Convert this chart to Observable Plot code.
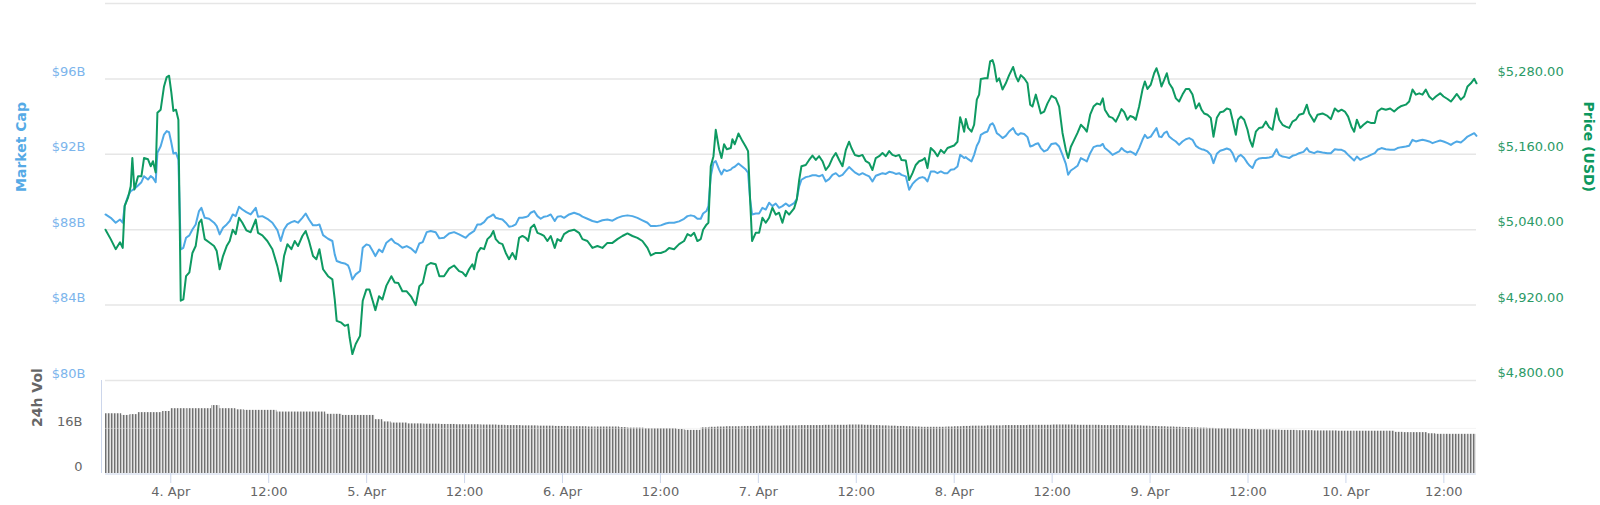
<!DOCTYPE html>
<html>
<head>
<meta charset="utf-8">
<script src="https://cdn.jsdelivr.net/npm/d3@7"></script>
<script src="https://cdn.jsdelivr.net/npm/@observablehq/plot@0.6"></script>
<style>
  body { margin: 0; background: #fff; }
  #chart { position: relative; width: 1600px; height: 505px; }
  #chart svg { position: absolute; left: 0; top: 0; }
</style>
</head>
<body>
<div id="chart"></div>
<script>
// ---- time: hours since 3 Apr 16:00 (UTC) ----
const startUTC = Date.UTC(2018, 3, 3, 16);
const spanHours = 168;

// ---- sample times (hours) for price & market cap ----
const hours = [
  0,0.64,1.25,1.78,2.11,2.35,2.76,3.09,3.29,3.54,3.99,4.40,4.72,5.21,5.54,5.82,6.15,6.36,6.76,7.17,
  7.50,7.79,8.07,8.32,8.64,8.93,9.22,9.54,9.87,10.28,10.65,11.05,11.46,11.75,12.16,12.69,13.30,13.63,13.99,14.40,
  14.85,15.22,15.59,15.96,16.36,16.77,17.26,17.79,18.41,18.69,19.22,19.83,20.45,21.06,21.47,21.88,22.29,22.78,23.19,23.59,
  24.12,24.53,24.94,25.43,25.84,26.21,26.66,27.27,27.80,28.09,28.33,28.90,29.31,29.72,29.92,30.25,30.66,31.19,31.52,31.97,
  32.33,32.74,33.07,33.52,33.93,34.42,35.03,35.44,35.89,36.38,36.91,37.48,38.01,38.46,38.87,39.36,39.85,40.46,40.91,41.48,42.10,
  42.71,43.33,43.74,44.14,44.55,44.96,45.17,45.57,45.98,46.39,
  46.80,47.21,47.53,47.82,48.23,48.64,49.05,49.45,49.86,50.27,
  50.68,51.09,51.50,51.78,52.11,52.52,52.93,53.33,53.74,54.15,
  54.56,55.05,55.38,55.79,56.19,56.81,57.42,58.03,58.44,59.05,
  59.67,60.28,60.89,61.50,62.12,62.73,63.34,63.96,64.57,65.18,
  65.79,66.41,66.82,67.43,68.04,68.65,69.06,69.67,70.29,70.90,
  71.31,71.72,72.13,72.53,72.94,73.23,73.64,73.88,74.17,74.50,
  74.78,75.19,75.48,75.80,76.13,76.62,76.82,77.11,77.56,78.05,
  78.46,78.74,78.99,79.23,79.68,80.09,80.50,80.91,81.32,81.72,
  82.13,82.54,82.95,83.36,83.77,
  84.38,84.71,85.00,85.28,85.81,86.22,86.63,87.04,87.45,87.86,
  88.26,88.67,89.08,89.49,89.90,90.31,90.72,91.12,91.41,91.82,
  92.35,92.76,93.17,93.58,93.98,94.39,94.80,95.21,95.62,96.03,
  96.43,96.84,97.25,97.54,98.07,98.48,98.89,99.29,99.70,100.11,
  100.40,100.72,101.13,101.54,101.95,102.36,102.77,103.18,103.58,103.99,
  104.40,104.73,105.01,105.22,105.42,105.71,106.12,106.44,106.77,107.05,
  107.26,107.75,108.08,108.40,108.69,108.89,109.22,109.51,109.92,110.32,
  110.73,111.22,111.55,111.84,112.16,112.57,112.98,113.31,113.59,114.00,
  114.29,114.61,115.02,115.43,115.92,116.45,116.86,117.27,117.68,117.96,
  118.29,118.70,119.11,119.52,119.92,120.25,120.66,121.07,121.48,121.89,
  122.21,122.46,122.99,123.40,123.80,124.21,124.50,124.83,125.23,125.56,
  125.97,126.25,126.66,127.07,127.36,127.68,128.09,128.50,128.79,129.11,
  129.40,129.72,130.05,130.34,130.75,131.16,131.56,131.97,132.38,132.79,
  133.20,133.61,134.01,134.30,134.63,135.04,135.44,135.77,136.18,136.59,
  136.99,137.40,137.81,138.10,138.51,138.79,139.12,139.53,139.94,140.22,
  140.55,140.96,141.37,141.78,142.18,142.59,143.00,143.49,143.82,144.23,
  144.64,145.04,145.45,145.86,146.27,146.80,147.21,147.50,148.11,148.52,
  149.13,149.74,150.15,150.64,151.05,151.46,151.87,152.27,152.68,153.01,
  153.34,153.75,154.15,154.64,155.05,155.54,155.87,156.36,156.89,157.42,
  157.91,158.32,158.81,159.34,159.75,160.16,160.57,160.98,161.38,161.79,
  162.20,162.61,163.02,163.55,163.96,164.45,164.86,165.18,165.59,166.08,
  166.49,166.90,167.31,167.72,168.00
];

// ---- price (USD) ----
const price = [
  5040,5025,5009,5020,5011,5078,5091,5109,5154,5104,5125,5125,5154,5152,5141,5149,5131,5226,5231,5268,
  5283,5285,5258,5229,5231,5215,4927,4929,4966,4972,5003,5014,5051,5056,5025,5020,5014,5006,4977,4998,
  5014,5022,5040,5033,5059,5051,5039,5036,5056,5035,5031,5022,5009,4982,4958,4998,5017,5009,5022,5014,
  5030,5038,5022,4998,4993,5009,4977,4966,4961,4929,4895,4892,4887,4889,4868,4842,4858,4871,4927,4945,
  4945,4927,4912,4934,4929,4951,4966,4956,4955,4942,4942,4933,4920,4950,4955,4983,4987,4985,4966,4966,4978,
  4983,4974,4972,4966,4977,4985,4977,5003,5011,5009,
  5025,5030,5038,5025,5019,5017,5003,4993,5003,4993,
  5027,5030,5027,5022,5043,5048,5035,5033,5030,5022,
  5030,5011,5025,5022,5033,5038,5040,5035,5025,5022,
  5011,5014,5011,5019,5019,5025,5030,5034,5030,5027,
  5022,5011,4999,5003,5003,5006,5011,5009,5017,5022,
  5033,5030,5035,5022,5025,5040,5048,5051,5141,5157,
  5199,5168,5154,5176,5168,5170,5184,5176,5193,5181,
  5172,5165,5088,5022,5035,5035,5059,5051,5059,5075,
  5064,5067,5051,5070,5064,
  5074,5088,5119,5141,5143,5151,5158,5151,5157,5149,
  5135,5142,5154,5162,5151,5141,5167,5180,5170,5159,
  5157,5159,5149,5146,5135,5154,5157,5162,5157,5165,
  5159,5157,5159,5151,5150,5119,5130,5143,5149,5151,
  5154,5138,5170,5165,5157,5167,5162,5170,5172,5174,
  5180,5219,5207,5196,5216,5202,5196,5207,5247,5255,
  5280,5281,5281,5308,5310,5302,5276,5281,5263,5273,
  5286,5299,5284,5276,5286,5281,5273,5239,5236,5255,
  5241,5225,5228,5241,5253,5249,5236,5194,5167,5154,
  5172,5183,5194,5207,5202,5196,5223,5236,5241,5239,
  5249,5231,5220,5218,5212,5223,5232,5227,5215,5221,
  5219,5215,5236,5263,5276,5264,5271,5289,5297,5284,
  5268,5278,5289,5273,5265,5249,5244,5255,5264,5264,
  5255,5233,5241,5231,5225,5223,5218,5188,5218,5227,
  5228,5233,5231,5215,5191,5215,5220,5215,5199,5183,
  5172,5196,5202,5203,5212,5203,5199,5233,5215,5207,
  5204,5202,5212,5215,5223,5225,5239,5225,5212,5223,
  5225,5221,5216,5233,5228,5231,5228,5220,5204,5196,
  5215,5202,5207,5212,5210,5210,5228,5233,5231,5233,
  5228,5233,5237,5239,5244,5263,5255,5257,5255,5263,
  5252,5247,5252,5257,5252,5248,5244,5249,5256,5247,
  5252,5268,5273,5280,5273
];

// ---- market cap (billion USD) ----
const marketCap = [
  88.81,88.63,88.37,88.54,88.37,89.25,89.78,90.05,90.10,90.17,90.35,90.52,90.84,90.66,90.84,90.75,90.52,92.08,92.43,93.05,
  93.23,93.17,92.61,92.04,92.08,91.72,86.95,87.04,87.57,87.70,88.01,88.28,88.99,89.16,88.63,88.58,88.37,88.19,87.75,88.10,
  88.28,88.46,88.81,88.72,89.22,89.07,88.93,88.81,89.16,88.69,88.72,88.58,88.37,87.98,87.40,88.01,88.28,88.40,88.46,88.37,
  88.63,88.86,88.54,88.23,88.23,88.28,87.71,87.52,87.40,86.69,86.34,86.25,86.21,86.11,85.89,85.36,85.63,85.81,87.04,87.22,
  87.17,86.87,86.60,86.95,86.81,87.31,87.52,87.31,87.22,87.04,87.13,86.99,86.78,87.27,87.34,87.87,87.93,87.87,87.54,87.57,87.80,
  87.87,87.75,87.66,87.57,87.75,87.87,87.93,88.28,88.28,88.40,
  88.63,88.72,88.81,88.63,88.58,88.54,88.37,88.16,88.19,88.28,
  88.63,88.63,88.67,88.72,88.90,88.99,88.72,88.58,88.69,88.72,
  88.81,88.46,88.69,88.72,88.63,88.81,88.90,88.81,88.69,88.58,
  88.46,88.40,88.50,88.54,88.48,88.63,88.72,88.76,88.72,88.63,
  88.50,88.37,88.19,88.19,88.23,88.33,88.37,88.37,88.44,88.58,
  88.72,88.76,88.72,88.58,88.58,88.86,88.99,89.25,90.84,91.55,
  91.64,91.19,90.93,91.19,91.11,91.19,91.28,91.34,91.51,91.34,
  91.19,91.02,89.60,88.81,88.86,88.86,89.16,89.07,89.43,89.25,
  89.39,89.16,89.25,89.39,89.25,
  89.41,89.62,90.29,90.65,90.79,90.83,90.89,90.89,90.83,90.91,
  90.56,90.68,90.91,91.00,90.83,90.91,91.12,91.32,91.21,91.04,
  90.91,91.00,90.91,90.83,90.56,90.86,90.93,91.00,90.96,91.07,
  91.04,90.96,91.00,90.91,90.83,90.12,90.43,90.61,90.74,90.79,
  90.74,90.56,91.09,91.09,91.00,91.09,91.00,91.00,91.18,91.21,
  91.35,91.97,91.88,91.80,91.85,91.74,91.62,91.97,92.45,92.68,
  93.03,93.16,93.21,93.56,93.65,93.51,93.12,93.03,92.86,92.98,
  93.21,93.39,93.12,93.03,93.12,93.08,92.91,92.41,92.45,92.55,
  92.59,92.33,92.15,92.24,92.55,92.59,92.41,91.97,91.49,90.91,
  91.14,91.26,91.39,91.80,91.71,91.62,92.06,92.38,92.45,92.45,
  92.55,92.33,92.15,91.97,92.06,92.15,92.33,92.20,92.10,92.15,
  92.06,91.97,92.33,92.77,93.03,92.86,92.94,93.21,93.39,92.94,
  92.91,93.12,93.21,92.94,92.80,92.68,92.50,92.68,92.80,92.86,
  92.77,92.45,92.33,92.27,92.24,92.15,91.97,91.53,92.03,92.19,
  92.24,92.31,92.24,92.06,91.62,91.88,91.97,91.80,91.53,91.39,
  91.27,91.67,91.78,91.80,91.80,91.83,91.88,92.27,91.97,91.88,
  91.85,91.80,91.92,91.97,92.06,92.13,92.33,92.15,92.06,92.15,
  92.10,92.06,92.06,92.27,92.24,92.24,92.15,91.97,91.80,91.67,
  91.88,91.71,91.80,91.88,91.97,92.06,92.24,92.33,92.27,92.24,
  92.24,92.33,92.38,92.41,92.45,92.77,92.68,92.73,92.77,92.73,
  92.68,92.59,92.66,92.73,92.68,92.59,92.50,92.59,92.68,92.63,
  92.77,92.94,93.03,93.12,92.98
];

// ---- 24h volume (billion USD), one value per hour from 3 Apr 16:00 ----
const volume = [
  21.2,21.2,20.6,20.9,21.6,21.6,21.6,22.0,23.0,23.0,23.0,23.0,23.0,24.1,23.0,23.0,22.6,22.4,22.4,22.4,
  22.4,21.8,21.8,21.8,21.8,21.8,21.8,21.0,21.0,20.6,20.6,20.6,20.6,19.1,18.3,17.9,17.9,
  17.6,17.6,17.5,17.5,17.4,17.4,17.3,17.3,17.3,17.2,17.2,17.1,
  17.0,17.0,16.9,16.9,16.8,16.8,16.7,16.7,16.6,16.6,16.5,16.5,
  16.5,16.5,16.3,16.1,16.1,15.9,15.9,15.9,15.9,15.6,15.3,15.3,
  16.2,16.4,16.5,16.6,16.6,16.7,16.7,16.8,16.8,16.8,16.9,16.9,
  17.0,17.0,17.0,17.1,17.1,17.1,17.2,17.2,17.1,17.0,16.9,16.8,
  16.7,16.6,16.5,16.4,16.4,16.4,16.5,16.6,16.7,16.8,16.8,16.9,
  16.9,17.0,17.0,17.0,17.1,17.1,17.1,17.2,17.2,17.2,17.1,17.1,
  17.1,17.0,17.0,17.0,16.9,16.9,16.8,16.7,16.6,16.5,16.4,16.3,
  16.2,16.1,16.0,15.9,15.9,15.8,15.7,15.6,15.5,15.5,15.4,15.3,
  15.3,15.2,15.2,15.1,15.1,15.1,15.0,15.0,15.0,15.0,15.0,15.0,
  15.0,14.6,14.5,14.5,14.5,14.1,13.9,13.9,13.9,13.9,13.9
];

// ---- axes ----
const capDomain = [80, 100];
const priceDomain = [4800, 5400];
const capGrid = [80, 84, 88, 92, 96, 100];
const capTicks = [80, 84, 88, 92, 96];
const priceTicks = [4800, 4920, 5040, 5160, 5280];
const volTicks = [0, 16];
const volDomain = [0, 33];
const xTickHours = [8, 20, 32, 44, 56, 68, 80, 92, 104, 116, 128, 140, 152, 164];
const xTickLabels = ["4. Apr","12:00","5. Apr","12:00","6. Apr","12:00","7. Apr","12:00","8. Apr","12:00","9. Apr","12:00","10. Apr","12:00"];

// ---- colors ----
const capColor = "#4fa9e6", capLabel = "#7cb5ec", capTitle = "#55aae6";
const priceColor = "#0e9a62", priceLabel = "#2b9a66", priceTitle = "#0d985e";
const grayText = "#666666", gridColor = "#e6e6e6", axisLine = "#ccd6eb";

const T = h => new Date(startUTC + h * 3600000);
const xDomain = [T(0), T(spanHours)];
const priceToCap = d3.scaleLinear(priceDomain, capDomain);

if (hours.length !== price.length || hours.length !== marketCap.length) {
  console.error("length mismatch", hours.length, price.length, marketCap.length);
}
const series = hours.map((h, i) => ({t: T(h), m: marketCap[i], p: priceToCap(price[i])}));
const volData = volume.map((v, i) => ({t1: T(i), t2: T(i + 1), v}));
const xLabelOf = new Map(xTickHours.map((h, i) => [+T(h), xTickLabels[i]]));

const W = 1600, H = 505, ML = 105, MR = 124;
const baseStyle = {background: "transparent", fontFamily: "DejaVu Sans", fontSize: "13px", overflow: "visible"};

const main = Plot.plot({
  width: W, height: H, marginLeft: ML, marginRight: MR, marginTop: 3, marginBottom: 125,
  style: {...baseStyle, background: "white"},
  x: {type: "utc", domain: xDomain, axis: null},
  y: {domain: capDomain, axis: null},
  marks: [
    Plot.ruleY(capGrid, {stroke: gridColor, strokeWidth: 1.5}),
    Plot.axisY(capTicks, {anchor: "left", tickSize: 0, tickPadding: 20, dy: -7,
      tickFormat: d => `$${d}B`, fill: capLabel, fontSize: 13, label: null}),
    Plot.axisY(priceTicks.map(p => priceToCap(p)), {anchor: "right", tickSize: 0, tickPadding: 21, dy: -7.5,
      tickFormat: d => "$" + d3.format(",.2f")(priceToCap.invert(d)), fill: priceLabel, fontSize: 13, label: null}),
    Plot.line(series, {x: "t", y: "m", stroke: capColor, strokeWidth: 2}),
    Plot.line(series, {x: "t", y: "p", stroke: priceColor, strokeWidth: 2}),
    Plot.text(["Market Cap"], {frameAnchor: "left", dx: -84, rotate: -90, fill: capTitle, fontWeight: "bold", fontSize: 14}),
    Plot.text(["Price (USD)"], {frameAnchor: "right", dx: 112, rotate: 90, fill: priceTitle, fontWeight: "bold", fontSize: 14})
  ]
});

const vol = Plot.plot({
  width: W, height: H, marginLeft: ML, marginRight: MR, marginTop: 380, marginBottom: 32,
  style: baseStyle,
  x: {type: "utc", domain: xDomain, axis: null},
  y: {domain: volDomain, axis: null},
  marks: [
    Plot.rectY(volData, {x1: "t1", x2: "t2", y: "v", fill: "url(#volStripes)"}),
    Plot.ruleY([16], {stroke: gridColor, strokeOpacity: 0.45}),
    Plot.ruleY([0], {stroke: axisLine, dy: 0.5}),
    Plot.ruleX([T(0)], {y1: 0, y2: volDomain[1], dx: -4, stroke: axisLine}),
    Plot.axisX(xTickHours.map(T), {anchor: "bottom", tickSize: 10, tickPadding: 3,
      tickFormat: d => xLabelOf.get(+d), stroke: axisLine, fill: grayText, fontSize: 13, label: null}),
    Plot.axisY(volTicks, {anchor: "left", tickSize: 0, tickPadding: 23, dy: -7,
      tickFormat: d => d === 0 ? "0" : `${d}B`, fill: grayText, fontSize: 13, label: null}),
    Plot.text(["24h Vol"], {frameAnchor: "left", dx: -68, rotate: -90, fill: grayText, fontWeight: "bold", fontSize: 14})
  ]
});

// striped column texture (Highcharts-like thin columns)
const defs = document.createElementNS("http://www.w3.org/2000/svg", "defs");
defs.innerHTML =
  '<pattern id="volStripes" patternUnits="userSpaceOnUse" x="0" y="0" width="3" height="10">' +
  '<rect x="0" y="0" width="3" height="10" fill="#ffffff"/>' +
  '<rect x="0" y="0" width="1.3" height="10" fill="#707070"/>' +
  '<rect x="1.3" y="0" width="1.0" height="10" fill="#a9a9a9"/>' +
  '</pattern>';
vol.insertBefore(defs, vol.firstChild);

const root = document.getElementById("chart");
root.appendChild(main);
root.appendChild(vol);
</script>
</body>
</html>
